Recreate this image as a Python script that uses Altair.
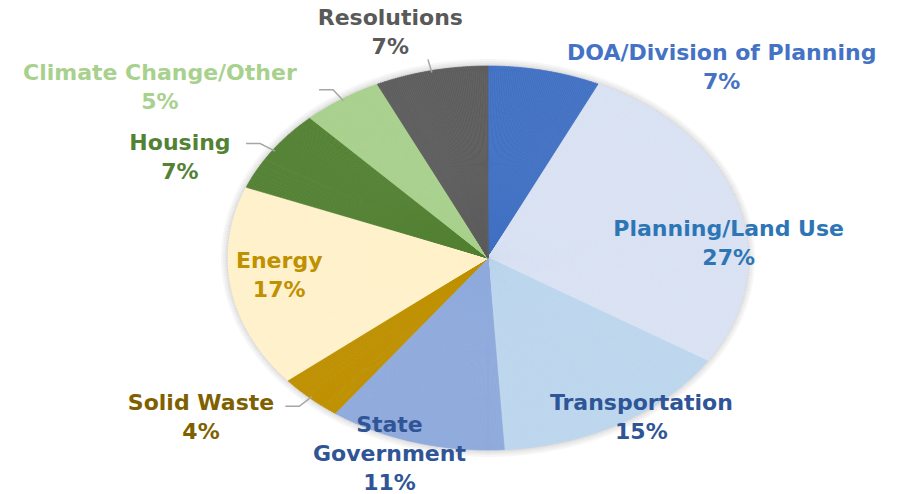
import math
import pandas as pd
import altair as alt

# ---- data ----
categories = ["DOA/Division of Planning", "Planning/Land Use", "Transportation",
              "State Government", "Solid Waste", "Energy", "Housing",
              "Climate Change/Other", "Resolutions"]
shares = [7, 27, 15, 11, 4, 17, 7, 5, 7]
label_names = ["DOA/Division of Planning", "Planning/Land Use", "Transportation",
               "State\nGovernment", "Solid Waste", "Energy", "Housing",
               "Climate Change/Other", "Resolutions"]

# ---- styles / layout ----
slice_colors = ["#4472C4", "#DAE3F3", "#BDD7EE", "#8FAADC", "#BF9000",
                "#FFF2CC", "#548235", "#A9D18E", "#5E5E5E"]
label_colors = ["#4472C4", "#2E75B6", "#2F5597", "#2F5597", "#7F6000",
                "#BF9000", "#548235", "#A9D18E", "#595959"]
# label block centre offset (px) from the wedge's mid-point on the rim
label_offsets = [(177, -3), (-9, 39), (21, -6), (-26, 12), (-109, 20),
                 (48, -13), (-93, 7), (-182, -12), (-41, -38)]
leader = [False, False, False, False, True, False, True, True, True]
LINE_H = 29

CX, CY, RX, RY = 488, 258, 260, 192   # ellipse centre and semi-axes (px)
TWO_PI = 2 * math.pi
total = sum(shares)


def screen_theta(p, end=False):
    t = math.atan2(RX * math.sin(p), RY * math.cos(p))
    if t < 0:
        t += TWO_PI
    if end and p >= TWO_PI - 1e-9:
        t = TWO_PI
    return t


def rim(p, k=1.0):
    return CX + k * RX * math.sin(p), CY - k * RY * math.cos(p)


def rad(p):
    return math.hypot(RX * math.sin(p), RY * math.cos(p))


rows, labels, lines = [], [], []
start = 0
for i, (cat, s) in enumerate(zip(categories, shares)):
    f0, f1 = start / total, (start + s) / total
    n = s * 8
    for j in range(n):
        p0 = TWO_PI * (f0 + (f1 - f0) * j / n)
        p1 = TWO_PI * (f0 + (f1 - f0) * (j + 1) / n)
        rows.append(dict(cat=cat, col=slice_colors[i],
                         t0=screen_theta(p0), t1=screen_theta(p1, end=True),
                         r=rad((p0 + p1) / 2)))
    pm = TWO_PI * (f0 + f1) / 2
    ex, ey = rim(pm)
    dx, dy = label_offsets[i]
    text = f"{label_names[i]}\n{s}%"
    n_lines = text.count("\n") + 1
    labels.append(dict(cat=cat, x=ex + dx,
                       y=ey + dy - (n_lines - 1) * LINE_H / 2,
                       lc=label_colors[i], text=text))
    if leader[i]:
        ax, ay = rim(pm, 0.99)
        bx, by = rim(pm, 1.06)
        side = -1 if math.sin(pm) < 0 else 1
        pts = [(ax, ay), (bx, by)]
        if cat != "Resolutions":
            pts.append((bx + side * 14, by))
        for o, (px, py) in enumerate(pts):
            lines.append(dict(cat=cat, o=o, x=px, y=py))
    start += s

slices_df = pd.DataFrame(rows)
labels_df = pd.DataFrame(labels)
lines_df = pd.DataFrame(lines)

center = dict(x=alt.value(CX), y=alt.value(CY))

shadow_layers = []
for d in [7, 5, 3, 1.5]:
    shadow_layers.append(
        alt.Chart(slices_df).transform_calculate(rr=f"datum.r + {d}")
        .mark_arc(fill="#000000", fillOpacity=0.035, stroke=None)
        .encode(theta=alt.Theta("t0:Q", scale=None, stack=False),
                theta2="t1:Q",
                radius=alt.Radius("rr:Q", scale=None), **center)
    )

pie = alt.Chart(slices_df).mark_arc(strokeWidth=0.7).encode(
    theta=alt.Theta("t0:Q", scale=None, stack=False),
    theta2="t1:Q",
    radius=alt.Radius("r:Q", scale=None),
    fill=alt.Fill("col:N", scale=None),
    stroke=alt.Stroke("col:N", scale=None),
    **center,
)

leaders = alt.Chart(lines_df).mark_line(color="#A6A6A6", strokeWidth=1.5).encode(
    x=alt.X("x:Q", scale=None, axis=None),
    y=alt.Y("y:Q", scale=None, axis=None),
    detail="cat:N",
    order="o:Q",
)

texts = alt.Chart(labels_df).mark_text(
    font="DejaVu Sans", fontWeight="bold", fontSize=22, lineBreak="\n",
    lineHeight=LINE_H, align="center", baseline="middle",
).encode(
    x=alt.X("x:Q", scale=None, axis=None),
    y=alt.Y("y:Q", scale=None, axis=None),
    text="text:N",
    color=alt.Color("lc:N", scale=None),
)

chart = alt.layer(*shadow_layers, pie, leaders, texts).properties(
    width=904, height=494, padding=0, autosize="none", background="white"
).configure_view(stroke=None)

chart.save("out.html", embed_options={"renderer": "svg", "actions": False})
